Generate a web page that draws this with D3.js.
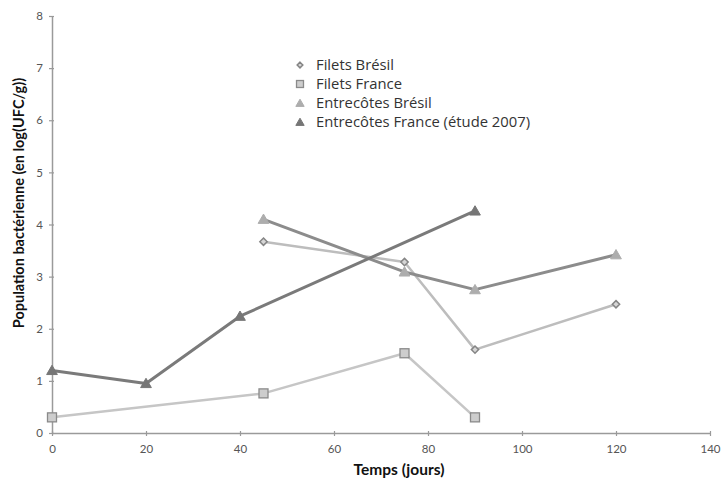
<!DOCTYPE html>
<html><head><meta charset="utf-8">
<script src="https://cdn.jsdelivr.net/npm/d3@7"></script>
<style>body{margin:0;background:#fff}svg{display:block;font-family:Lato,"Open Sans",sans-serif}</style>
</head><body><svg id="c" width="723" height="480"></svg>
<script>
const filetsBresilX = [45, 75, 90, 120];
const filetsBresilY = [3.67, 3.28, 1.6, 2.47];
const filetsFranceX = [0, 45, 75, 90];
const filetsFranceY = [0.3, 0.76, 1.53, 0.3];
const entreBresilX = [45, 75, 90, 120];
const entreBresilY = [4.1, 3.09, 2.75, 3.42];
const entreFranceX = [0, 20, 40, 90];
const entreFranceY = [1.2, 0.95, 2.24, 4.26];
const xTicks = [0, 20, 40, 60, 80, 100, 120, 140];
const yTicks = [0, 1, 2, 3, 4, 5, 6, 7, 8];
const seriesNames = ["Filets Brésil", "Filets France", "Entrecôtes Brésil", "Entrecôtes France (étude 2007)"];

const svg = d3.select("#c");
const x = d3.scaleLinear().domain([0, 140]).range([52, 710]);
const y = d3.scaleLinear().domain([0, 8]).range([433, 16]);

const ax = svg.append("g").attr("transform", "translate(0,433)")
  .call(d3.axisBottom(x).tickValues(xTicks).tickSize(4).tickSizeOuter(0).tickPadding(8));
const ay = svg.append("g").attr("transform", "translate(52,0)")
  .call(d3.axisLeft(y).tickValues(yTicks).tickSize(4).tickSizeOuter(0).tickPadding(5));
[ax, ay].forEach(g => {
  g.select(".domain").attr("stroke", "#9a9a9a").attr("stroke-width", 1.5);
  g.selectAll(".tick line").attr("stroke", "#9a9a9a").attr("stroke-width", 1.2);
  g.selectAll("text").attr("fill", "#555").attr("font-size", 11.5).attr("font-family", "Lato, sans-serif");
});
ax.selectAll(".tick line").attr("y1", -2).attr("y2", 3);
ay.selectAll(".tick line").attr("x1", 2).attr("x2", -3);

const series = [
  {xs: filetsBresilX, ys: filetsBresilY, line: "#bdbdbd", lw: 2.5, shape: "diamond", fill: "#d6d6d6", stroke: "#858585"},
  {xs: filetsFranceX, ys: filetsFranceY, line: "#c6c6c6", lw: 2.5, shape: "square", fill: "#cdcdcd", stroke: "#8a8a8a"},
  {xs: entreBresilX, ys: entreBresilY, line: "#8c8c8c", lw: 3, shape: "tri", fill: "#adadad", stroke: "#adadad"},
  {xs: entreFranceX, ys: entreFranceY, line: "#7a7a7a", lw: 3, shape: "tri", fill: "#767676", stroke: "#767676"}
];
const line = d3.line().x(d => x(d[0])).y(d => y(d[1]));
function marker(g, s, cx, cy, scale) {
  const k = scale || 1;
  if (s.shape === "diamond") {
    g.append("path").attr("d", d3.symbol(d3.symbolDiamond2, 34 * k)()).attr("transform", `translate(${cx},${cy})`)
      .attr("fill", s.fill).attr("stroke", s.stroke).attr("stroke-width", 1.5);
  } else if (s.shape === "square") {
    const h = 4.5 * Math.sqrt(k);
    g.append("rect").attr("x", cx - h).attr("y", cy - h).attr("width", 2 * h).attr("height", 2 * h)
      .attr("fill", s.fill).attr("stroke", s.stroke).attr("stroke-width", 1.3);
  } else {
    g.append("path").attr("d", d3.symbol(d3.symbolTriangle, 50 * k)()).attr("transform", `translate(${cx},${cy+1})`)
      .attr("fill", s.fill).attr("stroke", s.stroke).attr("stroke-width", 1);
  }
}
series.forEach(s => {
  const pts = s.xs.map((v, i) => [v, s.ys[i]]);
  svg.append("path").datum(pts).attr("d", line).attr("fill", "none")
    .attr("stroke", s.line).attr("stroke-width", s.lw).attr("stroke-linejoin", "round");
});
series.forEach(s => {
  const g = svg.append("g");
  s.xs.forEach((v, i) => marker(g, s, x(v), y(s.ys[i])));
});

// legend
const lg = svg.append("g");
seriesNames.forEach((n, i) => {
  const yy = 65 + i * 19;
  marker(lg, series[i], 300, yy, 0.6);
  lg.append("text").attr("x", 316).attr("y", yy + 5).attr("font-size", 14.8)
    .attr("font-family", "'Open Sans', sans-serif").attr("fill", "#333").text(n);
});

svg.append("text").attr("x", 399).attr("y", 475).attr("text-anchor", "middle")
  .attr("font-size", 15.5).attr("font-weight", "bold").attr("fill", "#111").text("Temps (jours)");
svg.append("text").attr("transform", "translate(24,203) rotate(-90)").attr("text-anchor", "middle")
  .attr("font-size", 14.5).attr("font-weight", "bold").attr("fill", "#111").text("Population bactérienne (en log(UFC/g))");
</script></body></html>
